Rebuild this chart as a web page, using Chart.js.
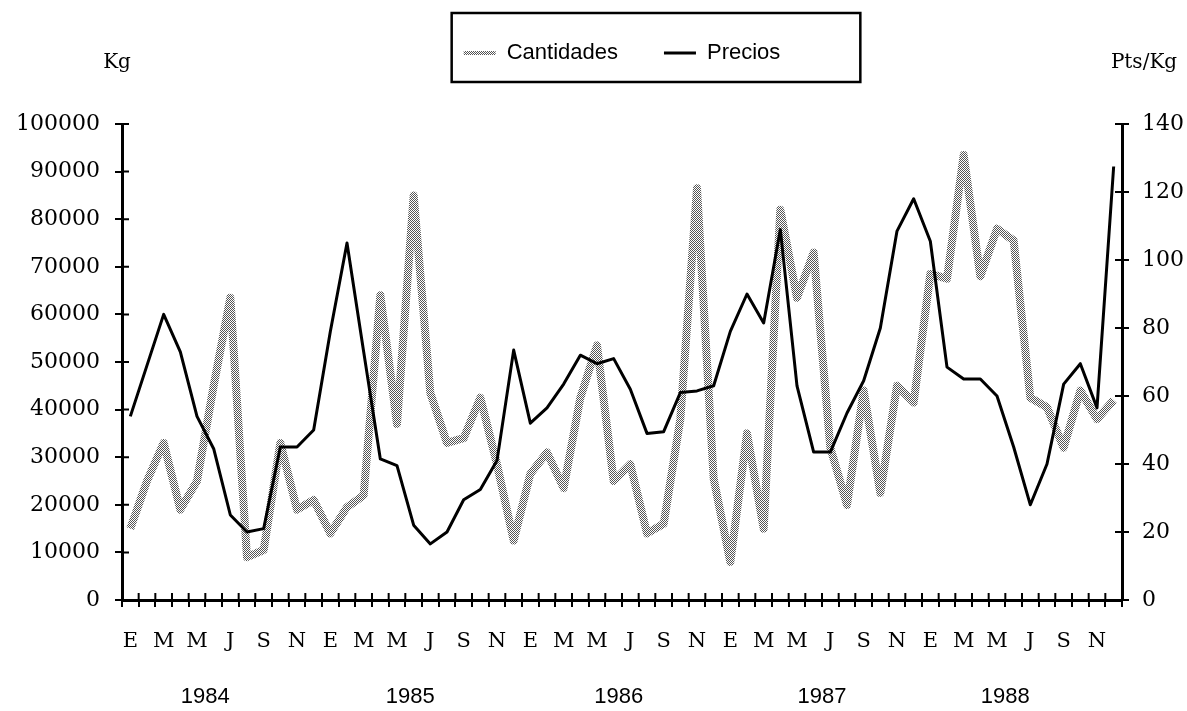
<!DOCTYPE html>
<html lang="es">
<head>
<meta charset="utf-8">
<title>Cantidades y Precios 1984-1988</title>
<script src="https://cdn.jsdelivr.net/npm/chart.js@4/dist/chart.umd.min.js"></script>
<style>
    html, body { margin: 0; padding: 0; background: #fff; }
    canvas { display: block; }
</style>
</head>
<body>
<canvas id="chart" width="1187" height="711"></canvas>
<script>
// Datos del gráfico
const years = ['1984', '1985', '1986', '1987', '1988'];
const monthInitials = ['E', 'F', 'M', 'A', 'M', 'J', 'J', 'A', 'S', 'O', 'N', 'D'];
// posición (en meses) de la etiqueta de cada año
const yearTickAt = [4.5, 16.8, 29.3, 41.5, 52.5];

// Kg
const cantidades = [
    15000, 25000, 33000, 19000, 25000, 45000, 63500, 9000, 10500, 33000, 19000, 21000,
    14000, 19500, 22000, 64000, 37000, 85000, 43500, 33000, 34000, 42500, 28500, 12500,
    26500, 31000, 23500, 42500, 53500, 25000, 28500, 14000, 16000, 38000, 86500, 25500,
    8000, 35000, 15000, 82000, 63500, 73000, 32000, 20000, 44000, 22500, 45000, 41500,
    68500, 67500, 93500, 68000, 78000, 75500, 42500, 40500, 32000, 44000, 38000, 42000
];

// Pts/Kg
const precios = [
    54, 69, 84, 73, 54, 44.5, 25, 20, 21, 45, 45, 50,
    79, 105, 73, 41.5, 39.5, 22, 16.5, 20, 29.5, 32.5, 41, 73.5,
    52, 56.5, 63.5, 72, 69.5, 71, 62, 49, 49.5, 61, 61.5, 63,
    79, 90, 81.5, 109, 63, 43.5, 43.5, 55, 64.5, 80, 108.5, 118,
    105.5, 68.5, 65, 65, 60, 45, 28, 40, 63.5, 69.5, 56.5, 127.5
];

const labels = years.flatMap(y => monthInitials.map(m => m + ' ' + y));

// Trama de puntos para la serie de cantidades
const pc = document.createElement('canvas');
pc.width = 2; pc.height = 2;
const pctx = pc.getContext('2d');
pctx.fillStyle = '#fff';
pctx.fillRect(0, 0, 2, 2);
pctx.fillStyle = '#555';
pctx.fillRect(0, 0, 1, 1);
pctx.fillRect(1, 1, 1, 1);
const dots = pctx.createPattern(pc, 'repeat');

const serif = 'DejaVu Serif';

// Marcas que cruzan los ejes, recuadro de la leyenda y unidades
const extras = {
    id: 'extras',
    afterDraw(chart) {
        const {ctx, scales: {x, y, y1}} = chart;
        ctx.save();
        ctx.strokeStyle = '#000';
        ctx.lineWidth = 2;
        ctx.beginPath();
        for (let i = 0; i <= labels.length; i++) {
            const px = x.getPixelForDecimal(i / labels.length);
            ctx.moveTo(px, x.top);
            ctx.lineTo(px, x.top - 7);
        }
        y.ticks.forEach(t => {
            const py = y.getPixelForValue(t.value);
            ctx.moveTo(y.right, py);
            ctx.lineTo(y.right + 7, py);
        });
        y1.ticks.forEach(t => {
            const py = y1.getPixelForValue(t.value);
            ctx.moveTo(y1.left, py);
            ctx.lineTo(y1.left - 7, py);
        });
        ctx.stroke();

        // recuadro de la leyenda
        const hb = chart.legend.legendHitBoxes;
        if (hb && hb.length) {
            const last = hb[hb.length - 1];
            const left = hb[0].left - 12;
            const right = last.left + last.width + 80;
            const top = hb[0].top - 29;
            const bottom = hb[0].top + hb[0].height + 18;
            ctx.lineWidth = 2.5;
            ctx.strokeRect(left, top, right - left, bottom - top);
        }

        // unidades
        ctx.fillStyle = '#000';
        ctx.font = '20px "' + serif + '"';
        ctx.textBaseline = 'middle';
        ctx.textAlign = 'center';
        ctx.fillText('Kg', y.right - 5, 63);
        ctx.fillText('Pts/Kg', y1.left + 22, 63);
        ctx.restore();
    }
};

Chart.defaults.color = '#000';

const ctx = document.getElementById('chart');
const chart = new Chart(ctx, {
    type: 'line',
    data: {
        labels: labels,
        datasets: [{
            label: 'Cantidades',
            data: cantidades,
            xAxisID: 'x',
            yAxisID: 'y',
            borderColor: dots,
            backgroundColor: dots,
            borderWidth: 8,
            borderJoinStyle: 'round',
            pointRadius: 0,
            tension: 0,
            order: 2
        }, {
            label: 'Precios',
            data: precios,
            xAxisID: 'x',
            yAxisID: 'y1',
            borderColor: '#000',
            backgroundColor: '#000',
            borderWidth: 3,
            borderJoinStyle: 'round',
            pointRadius: 0,
            tension: 0,
            order: 1
        }]
    },
    options: {
        responsive: false,
        animation: false,
        layout: { padding: { top: -4, left: 0, right: 0, bottom: 0 } },
        plugins: {
            tooltip: { enabled: false },
            legend: {
                position: 'top',
                fullSize: false,
                labels: {
                    usePointStyle: true,
                    pointStyle: 'line',
                    pointStyleWidth: 32,
                    padding: 46,
                    color: '#000',
                    font: { family: 'Liberation Sans', size: 22 },
                    sort: (a, b) => a.datasetIndex - b.datasetIndex,
                    generateLabels(chart) {
                        const items = Chart.defaults.plugins.legend.labels.generateLabels(chart);
                        items.forEach(it => {
                            it.pointStyle = 'line';
                            it.lineWidth = it.datasetIndex === 0 ? 4 : 3;
                        });
                        return items;
                    }
                }
            }
        },
        scales: {
            x: {
                type: 'category',
                position: 'bottom',
                offset: true,
                grid: {
                    offset: true,
                    drawOnChartArea: false,
                    tickLength: 7,
                    color: '#000',
                    lineWidth: 2
                },
                border: { color: '#000', width: 3 },
                ticks: {
                    autoSkip: false,
                    maxRotation: 0,
                    padding: 22,
                    font: { family: serif, size: 21 },
                    callback: (v, i) => i % 2 === 0 ? monthInitials[i % 12] : ''
                },
                afterFit(s) { s.height = 60; }
            },
            gap: {
                type: 'category',
                position: 'top',
                grid: { display: false },
                border: { display: false },
                ticks: { display: false },
                afterFit(s) { s.height = 50; }
            },
            x2: {
                type: 'linear',
                position: 'bottom',
                min: -0.5,
                max: labels.length - 0.5,
                grid: { display: false, drawTicks: false },
                border: { display: false },
                afterBuildTicks(s) { s.ticks = yearTickAt.map(v => ({ value: v })); },
                ticks: {
                    padding: 24,
                    maxRotation: 0,
                    autoSkip: false,
                    font: { family: 'Liberation Sans', size: 22 },
                    callback: (v, i) => years[i]
                },
                afterFit(s) { s.height = 51; }
            },
            y: {
                position: 'left',
                min: 0,
                max: 100000,
                grid: {
                    drawOnChartArea: false,
                    tickLength: 7,
                    color: '#000',
                    lineWidth: 2
                },
                border: { color: '#000', width: 3 },
                ticks: {
                    stepSize: 10000,
                    padding: 15,
                    font: { family: serif, size: 22 },
                    callback: v => String(v)
                },
                afterFit(s) { s.width = 122; }
            },
            y1: {
                position: 'right',
                min: 0,
                max: 140,
                grid: {
                    drawOnChartArea: false,
                    tickLength: 7,
                    color: '#000',
                    lineWidth: 2
                },
                border: { color: '#000', width: 3 },
                ticks: {
                    stepSize: 20,
                    padding: 13,
                    font: { family: serif, size: 22 },
                    callback: v => String(v)
                },
                afterFit(s) { s.width = 65; }
            }
        }
    },
    plugins: [extras]
});
</script>
</body>
</html>
